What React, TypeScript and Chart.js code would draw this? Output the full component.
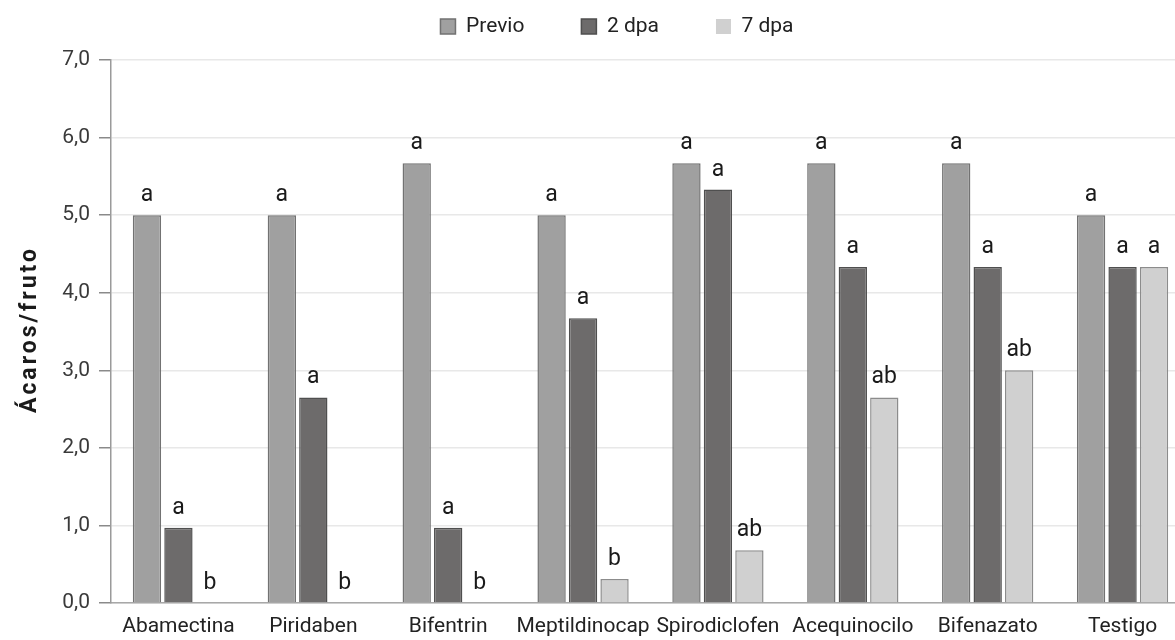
import React, { useEffect, useRef } from "react";
import { Chart, registerables } from "chart.js";

Chart.register(...registerables);

// Treatments along the x axis
const categories = [
  "Abamectina",
  "Piridaben",
  "Bifentrin",
  "Meptildinocap",
  "Spirodiclofen",
  "Acequinocilo",
  "Bifenazato",
  "Testigo",
];

// Mites per fruit, by sampling moment
const previo = [5.0, 5.0, 5.67, 5.0, 5.67, 5.67, 5.67, 5.0];
const dpa2 = [0.97, 2.65, 0.97, 3.67, 5.33, 4.33, 4.33, 4.33];
const dpa7 = [0, 0, 0, 0.31, 0.68, 2.65, 3.0, 4.33];

// Significance letters written above each bar
const lettersPrevio = ["a", "a", "a", "a", "a", "a", "a", "a"];
const letters2 = ["a", "a", "a", "a", "a", "a", "a", "a"];
const letters7 = ["b", "b", "b", "b", "ab", "ab", "ab", "a"];

const yTicks = [0, 1, 2, 3, 4, 5, 6, 7];
const yTitle = "Ácaros/fruto";

const FONT = "Roboto, 'Noto Sans', sans-serif";

// Draws each bar's letter group centred above its top edge
const letterPlugin = {
  id: "barLetters",
  afterDatasetsDraw(chart: any) {
    const ctx = chart.ctx;
    ctx.save();
    ctx.font = `23px ${FONT}`;
    ctx.fillStyle = "#1a1a1a";
    ctx.textAlign = "center";
    ctx.textBaseline = "alphabetic";
    chart.data.datasets.forEach((ds: any, di: number) => {
      const meta = chart.getDatasetMeta(di);
      meta.data.forEach((bar: any, i: number) => {
        const txt = ds.letters?.[i];
        if (!txt) return;
        ctx.fillText(txt, bar.x, bar.y - 14);
      });
    });
    ctx.restore();
  },
};

// Spaced-out vertical axis title, drawn beside the tick labels
const yTitlePlugin = {
  id: "yTitle",
  afterDraw(chart: any) {
    const { ctx, chartArea } = chart;
    ctx.save();
    ctx.translate(30, (chartArea.top + chartArea.bottom) / 2);
    ctx.rotate(-Math.PI / 2);
    ctx.font = `bold 23px ${FONT}`;
    (ctx as any).letterSpacing = "3px";
    ctx.fillStyle = "#1a1a1a";
    ctx.textAlign = "left";
    ctx.textBaseline = "middle";
    const w = ctx.measureText(yTitle).width;
    ctx.fillText(yTitle, -w / 2 + 2, 0);
    ctx.restore();
  },
};

// Places the legend row near the top edge, slightly right of centre
const legendShift = {
  id: "legendShift",
  afterLayout(chart: any) {
    const lg = chart.legend;
    if (!lg) return;
    lg.left += 22;
    lg.right += 22;
    lg.top -= 41;
  },
};

export default function App() {
  const ref = useRef<HTMLCanvasElement | null>(null);

  useEffect(() => {
    document.body.style.margin = "0";
    if (!ref.current) return;
    const mk = (label: string, data: number[], letters: string[], fill: string, border: string) => ({
      label,
      data,
      letters,
      backgroundColor: fill,
      borderColor: border,
      borderWidth: (c: any) => (c.raw === 0 ? 0 : 1.5),
      categoryPercentage: 0.7,
      barPercentage: 0.9,
    });
    const chart = new Chart(ref.current, {
      type: "bar",
      data: {
        labels: categories,
        datasets: [
          mk("Previo", previo, lettersPrevio, "#a0a0a0", "#727272"),
          mk("2 dpa", dpa2, letters2, "#6d6b6b", "#4f4f4f"),
          mk("7 dpa", dpa7, letters7, "#d0d0d0", "#8c8c8c"),
        ] as any,
      },
      plugins: [letterPlugin, yTitlePlugin, legendShift],
      options: {
        animation: false,
        responsive: true,
        maintainAspectRatio: false,
        layout: { padding: { top: 0, left: 0, right: 0, bottom: 0 } },
        plugins: {
          tooltip: { enabled: false },
          legend: {
            position: "top",
            maxHeight: 60,
            labels: {
              boxWidth: 15,
              boxHeight: 15,
              padding: 57,
              color: "#222",
              font: { family: FONT, size: 21 },
            },
          },
        },
        scales: {
          x: {
            grid: { display: false },
            border: { color: "#a8a8a8", width: 1.5 },
            afterFit(scale: any) {
              scale.height = 37;
            },
            ticks: {
              color: "#222",
              font: { family: FONT, size: 21 },
              maxRotation: 0,
              autoSkip: false,
              padding: 3,
            },
          },
          y: {
            min: 0,
            max: 7,
            afterFit(scale: any) {
              scale.width = 111;
            },
            afterBuildTicks(scale: any) {
              scale.ticks = yTicks.map((v) => ({ value: v }));
            },
            border: { color: "#9a9a9a", width: 1.5 },
            grid: {
              color: "#e8e8e8",
              lineWidth: 1.5,
              tickLength: 12,
              tickColor: "#8a8a8a",
              drawTicks: true,
            },
            ticks: {
              color: "#3a3a3a",
              padding: 9,
              font: { family: FONT, size: 21 },
              callback: (v: any) => Number(v).toFixed(1).replace(".", ","),
            },
          },
        },
      },
    });
    return () => chart.destroy();
  }, []);

  return (
    <div style={{ position: "absolute", left: 0, top: 0, width: 1175, height: 640, overflow: "hidden" }}>
      <div style={{ position: "relative", width: 1190, height: 640 }}>
        <canvas ref={ref} />
      </div>
    </div>
  );
}
